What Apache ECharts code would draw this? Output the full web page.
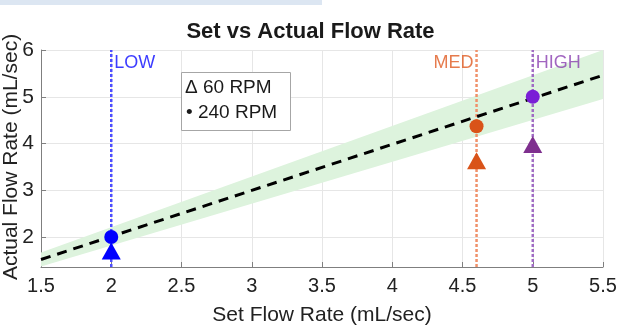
<!DOCTYPE html>
<html><head><meta charset="utf-8">
<script src="https://cdn.jsdelivr.net/npm/echarts@6/dist/echarts.min.js"></script>
<style>html,body{margin:0;padding:0;background:#fff}#c{width:621px;height:327px}</style>
</head><body><div id="c"></div>
<script>
// ---- data ----
var xTicks = [1.5, 2, 2.5, 3, 3.5, 4, 4.5, 5, 5.5];
var yTicks = [2, 3, 4, 5, 6];
var levelNames = ['LOW', 'MED', 'HIGH'];
var levelSet = [2, 4.6, 5];
var rpm60 = [1.7, 3.63, 3.98];
var rpm240 = [2.0, 4.37, 5.0];
var fitX = [1.5, 5.5];
var fitY = [1.52, 5.46];
var bandX = [1.5, 5.5];
var bandUpper = [1.67, 6.0];
var bandLower = [1.37, 4.95];
var yMin = 1.36, yMax = 6;
var yTitle = 'Actual Flow Rate (mL/sec)';

var markerColors = ['#0000ff', '#d95319', '#7a1fd6'];
var triColors = ['#0000ff', '#d95319', '#7e2f8e'];
var lineColors = ['#4d4dff', '#f0916a', '#a06cc4'];
var labelColors = ['#0a0aff', '#e05a20', '#8a3fb0'];

var chart = echarts.init(document.getElementById('c'), null, {renderer: 'canvas'});
var FONT = 'Liberation Sans, Arial, sans-serif';
var series = [];

series.push({
  type: 'custom', silent: true, z: 1,
  data: [0],
  renderItem: function (params, api) {
    var pts = [];
    for (var i = 0; i < bandX.length; i++) pts.push(api.coord([bandX[i], bandUpper[i]]));
    for (var j = bandX.length - 1; j >= 0; j--) pts.push(api.coord([bandX[j], bandLower[j]]));
    return {type: 'polygon', shape: {points: pts}, style: {fill: '#ddf3dd'}};
  }
});

levelSet.forEach(function (x, i) {
  series.push({
    type: 'line', silent: true, z: 2, symbol: 'none',
    data: [[x, yMin], [x, yMax]],
    lineStyle: {color: lineColors[i], width: 2.5, type: [3, 2]}
  });
  series.push({
    type: 'scatter', silent: true, z: 6, symbolSize: 0,
    data: [[x, 5.72]],
    label: {show: true, position: i === 1 ? 'left' : 'right', distance: 3,
      formatter: levelNames[i], color: labelColors[i], fontSize: 18, fontFamily: FONT}
  });
});

series.push({
  type: 'line', silent: true, z: 3, symbol: 'none',
  data: fitX.map(function (x, i) { return [x, fitY[i]]; }),
  lineStyle: {color: '#000', width: 3, type: [10, 7]}
});

levelSet.forEach(function (x, i) {
  series.push({
    type: 'scatter', silent: true, z: 4, symbol: 'circle', symbolSize: 14,
    data: [[x, rpm240[i]]], itemStyle: {color: markerColors[i], opacity: 1}
  });
  series.push({
    type: 'scatter', silent: true, z: 5, symbol: 'triangle', symbolSize: [19, 17],
    data: [[x, rpm60[i]]], itemStyle: {color: triColors[i], opacity: 1}
  });
});

chart.setOption({
  animation: false,
  backgroundColor: '#fff',
  title: {text: 'Set vs Actual Flow Rate', left: 'center', top: 16,
    textStyle: {fontFamily: FONT, fontSize: 22, fontWeight: 'bold', color: '#1a1a1a'}},
  grid: {left: 41, right: 18, top: 50, bottom: 60, containLabel: false, outerBoundsMode: 'none'},
  xAxis: {
    type: 'value', min: 1.5, max: 5.5, interval: 0.5,
    name: 'Set Flow Rate (mL/sec)', nameLocation: 'middle', nameGap: 38,
    nameTextStyle: {fontFamily: FONT, fontSize: 21, color: '#222'},
    axisLine: {show: true, lineStyle: {color: '#7f7f7f', width: 1}},
    axisTick: {show: true, inside: true, length: 5, lineStyle: {color: '#7f7f7f'}},
    axisLabel: {fontFamily: FONT, fontSize: 20, color: '#222', margin: 9,
      customValues: xTicks, formatter: function (v) { return String(v); }},
    splitLine: {show: true, lineStyle: {color: '#e6e6e6', width: 1}}
  },
  yAxis: {
    type: 'value', min: yMin, max: yMax,
    axisLine: {show: true, lineStyle: {color: '#7f7f7f', width: 1}},
    axisTick: {show: true, inside: true, length: 5, customValues: yTicks, lineStyle: {color: '#7f7f7f'}},
    axisLabel: {fontFamily: FONT, fontSize: 21, color: '#222', margin: 7, customValues: yTicks},
    splitLine: {show: true, lineStyle: {color: '#e6e6e6', width: 1}}
  },
  graphic: [
    {type: 'rect', left: 0, top: 0, shape: {width: 322, height: 5}, style: {fill: '#dce6f2'}, z: 100},
    {type: 'text', x: 11, y: 157, rotation: Math.PI / 2, z: 100,
      style: {text: yTitle, font: '21px ' + FONT, fill: '#222', align: 'center', verticalAlign: 'middle'}},
    {type: 'rect', left: 181, top: 72, shape: {width: 109, height: 58},
      style: {fill: '#fff', stroke: '#a6a6a6', lineWidth: 1}, z: 100},
    {type: 'text', left: 185, top: 78, z: 101,
      style: {text: 'Δ 60 RPM', font: '19px ' + FONT, fill: '#1a1a1a'}},
    {type: 'text', left: 186, top: 103, z: 101,
      style: {text: '• 240 RPM', font: '19px ' + FONT, fill: '#1a1a1a'}}
  ],
  series: series
});
</script></body></html>
